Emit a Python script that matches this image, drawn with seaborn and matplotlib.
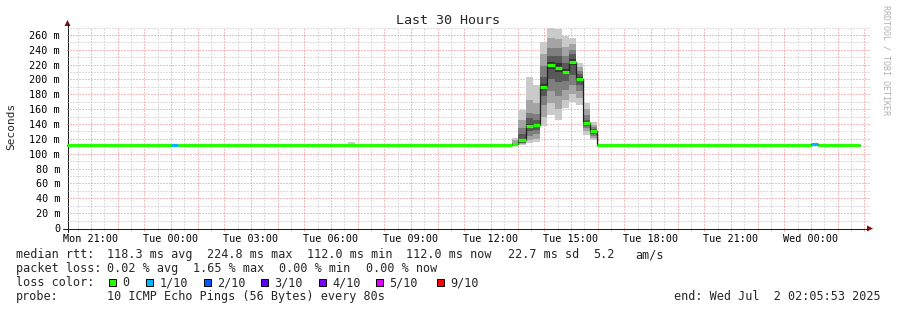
import numpy as np
import pandas as pd
import matplotlib
matplotlib.use("Agg")
import matplotlib.pyplot as plt
import seaborn as sns
from matplotlib.patches import Rectangle, Polygon

# ---------------- data (hours since Mon 00:00) ----------------
t_start = 20.098          # Mon 20:05:53
t_end = 50.098            # Wed 02:05:53
data_end = 49.84

step_start = [20.098, 24.00, 24.26, 36.79, 37.01, 37.31, 37.57, 37.84, 38.10,
              38.40, 38.66, 38.92, 39.19, 39.45, 39.71, 39.97, 48.00, 48.26]
median_ms = [112, 112, 112, 113, 118.5, 138, 138.5, 190, 219.5,
             216, 210.5, 224, 200.5, 141, 130, 112, 113, 112]
loss_idx = [0, 1, 0, 0, 0, 0, 0, 0, 0, 0, 0, 0, 0, 0, 0, 0, 1, 0]

smoke_start = [30.64, 36.79, 37.01, 37.31, 37.57, 37.84, 38.10, 38.40, 38.66,
               38.92, 39.19, 39.45, 39.71]
smoke_end = [30.90, 37.01, 37.31, 37.57, 37.84, 38.10, 38.40, 38.66, 38.92,
             39.19, 39.45, 39.71, 39.97]
smoke_pings = [
    [112, 112, 112, 112, 112, 112, 112, 112, 112, 116],
    [111, 111, 112, 112, 112, 113, 114, 115, 118, 121],
    [112, 113, 114, 115, 117, 120, 127, 135, 146, 159],
    [114, 118, 124, 130, 136, 140, 148, 155, 172, 203],
    [116, 120, 126, 132, 137, 140, 145, 154, 168, 192],
    [138, 150, 165, 178, 186, 194, 204, 218, 234, 251],
    [152, 168, 185, 200, 214, 224, 232, 243, 256, 269],
    [146, 160, 178, 196, 210, 222, 232, 242, 255, 268],
    [161, 172, 186, 198, 207, 214, 222, 232, 244, 258],
    [170, 180, 192, 206, 220, 228, 234, 240, 248, 256],
    [166, 175, 184, 192, 198, 203, 207, 212, 217, 222],
    [125, 130, 134, 138, 140, 142, 146, 152, 160, 169],
    [118, 121, 124, 127, 129, 131, 133, 136, 139, 143],
]

x_tick_hours = [21, 24, 27, 30, 33, 36, 39, 42, 45, 48]
x_tick_labels = ["Mon 21:00", "Tue 00:00", "Tue 03:00", "Tue 06:00", "Tue 09:00",
                 "Tue 12:00", "Tue 15:00", "Tue 18:00", "Tue 21:00", "Wed 00:00"]
y_ticks = [0, 20, 40, 60, 80, 100, 120, 140, 160, 180, 200, 220, 240, 260]
y_tick_labels = ["0"] + [f"{v} m" for v in y_ticks[1:]]

loss_labels = ["0", "1/10", "2/10", "3/10", "4/10", "5/10", "9/10"]
loss_colors = ["#26ff00", "#00b8ff", "#0059ff", "#5e00ff", "#7e00ff", "#dd00ff", "#ff0000"]
smoke_grays = ["#cacaca", "#a4a4a4", "#7e7e7e", "#585858", "#323232"]

rtt_texts = ["median rtt:", "118.3 ms avg", "224.8 ms max", "112.0 ms min",
             "112.0 ms now", "22.7 ms sd", "5.2", "am/s"]
loss_texts = ["packet loss:", "0.02 % avg", "1.65 % max", "0.00 % min", "0.00 % now"]
probe_text = "10 ICMP Echo Pings (56 Bytes) every 80s"
end_text = "end: Wed Jul  2 02:05:53 2025"
title_text = "Last 30 Hours"

# ---------------- style ----------------
sns.set_style("white")
plt.rcParams["font.family"] = ["DejaVu Sans Mono", "DejaVu Sans"]

W, H = 897, 310
fig = plt.figure(figsize=(W / 100, H / 100), dpi=100)
fig.patch.set_facecolor("white")

px_l, px_r, px_b, px_t = 67, 867, 228, 27.5
ax = fig.add_axes([px_l / W, 1 - px_b / H, (px_r - px_l) / W, (px_b - px_t) / H])
ax.set_xlim(t_start, t_end)
ax.set_ylim(0, 270)
for s in ax.spines.values():
    s.set_visible(False)

hpx = (t_end - t_start) / (px_r - px_l)      # hours per pixel
vpx = 270 / (px_b - px_t)                    # ms per pixel

# grid
dot = (0, (1, 2))
minor_h = np.arange(10, 271, 20)
major_h = np.arange(20, 261, 20)
half_hours = np.arange(20.5, 50.1, 1.0)
full_hours = np.arange(21, 50.1, 1.0)
grid_kw = dict(lw=0.72, linestyles=[dot], clip_on=False)
ax.hlines(minor_h, t_start, t_end + 3 * hpx, colors="#bdbdbd", zorder=0, **grid_kw)
ax.vlines(half_hours, -3 * vpx, 270, colors="#bdbdbd", zorder=0, **grid_kw)
ax.hlines(major_h, t_start, t_end + 3 * hpx, colors="#f07c7c", zorder=0.5, **grid_kw)
ax.vlines(full_hours, -3 * vpx, 270, colors="#f07c7c", zorder=0.5, **grid_kw)

# smoke
for s, e, p in zip(smoke_start, smoke_end, smoke_pings):
    for k in range(5):
        ax.bar(s, p[9 - k] - p[k], bottom=p[k], width=e - s, align="edge",
               color=smoke_grays[k], linewidth=0, zorder=1 + k * 0.1)

# median dark step line
df = pd.DataFrame({"t": step_start + [data_end],
                   "median": median_ms + [median_ms[-1]]})
sns.lineplot(data=df, x="t", y="median", ax=ax, color="#202020", lw=0.9,
             drawstyle="steps-post", estimator=None, sort=False, zorder=3)

# colored median segments
step_end = step_start[1:] + [data_end]
ax.hlines(median_ms, step_start, step_end,
          colors=[loss_colors[i] for i in loss_idx], lw=2.3, zorder=4,
          capstyle="butt")

ax.set_xlabel("")
ax.set_ylabel("")
ax.set_xticks(x_tick_hours)
ax.set_xticklabels(x_tick_labels)
ax.set_yticks(y_ticks)
ax.set_yticklabels(y_tick_labels)
ax.tick_params(axis="both", length=0, labelsize=7.3, colors="black")
ax.tick_params(axis="x", pad=4.5)
ax.tick_params(axis="y", pad=5)
ax.patch.set_alpha(0)

# overlay in pixel coordinates
ov = fig.add_axes([0, 0, 1, 1], zorder=-1)
ov.set_xlim(0, W)
ov.set_ylim(H, 0)
ov.axis("off")

# axes lines + arrows
ov.plot([63, 868], [228.5, 228.5], color="#202020", lw=0.75)
ov.plot([67.5, 67.5], [232, 24], color="#202020", lw=0.75)
ov.add_patch(Polygon([[867, 225.5], [873, 228.5], [867, 231.5]], closed=True,
                     color="#7a1010", lw=0))
ov.add_patch(Polygon([[64.5, 26], [67.5, 20], [70.5, 26]], closed=True,
                     color="#7a1010", lw=0))

fs = 8.5
ov.text(448.5, 20, title_text, ha="center", va="center", fontsize=9.6)
ov.text(11, 126, "Seconds", ha="center", va="center", rotation=90, fontsize=8)
ov.text(886, 5, "RRDTOOL / TOBI OETIKER", ha="center", va="top", rotation=-90,
        fontsize=6, color="#b0b0b0")

rtt_x = [16, 107, 207, 307, 406, 508, 593, 635]
for x, t in zip(rtt_x, rtt_texts):
    ov.text(x, 258, t, ha="left", va="baseline", fontsize=fs)
loss_x = [16, 107, 193, 279, 366]
for x, t in zip(loss_x, loss_texts):
    ov.text(x, 272, t, ha="left", va="baseline", fontsize=fs)
ov.text(16, 286, "loss color:", ha="left", va="baseline", fontsize=fs)
box_x = [108.5, 146, 203.5, 261, 318.5, 376, 437]
for x, c, lab in zip(box_x, loss_colors, loss_labels):
    ov.add_patch(Rectangle((x, 278.5), 7, 7, facecolor=c, edgecolor="black", lw=0.7))
    ov.text(x + 13.5, 286, lab, ha="left", va="baseline", fontsize=fs)
ov.text(16, 300, "probe:", ha="left", va="baseline", fontsize=fs)
ov.text(107, 300, probe_text, ha="left", va="baseline", fontsize=fs)
ov.text(881, 300, end_text, ha="right", va="baseline", fontsize=fs)

fig.savefig("out.png", dpi=100, facecolor="white")
